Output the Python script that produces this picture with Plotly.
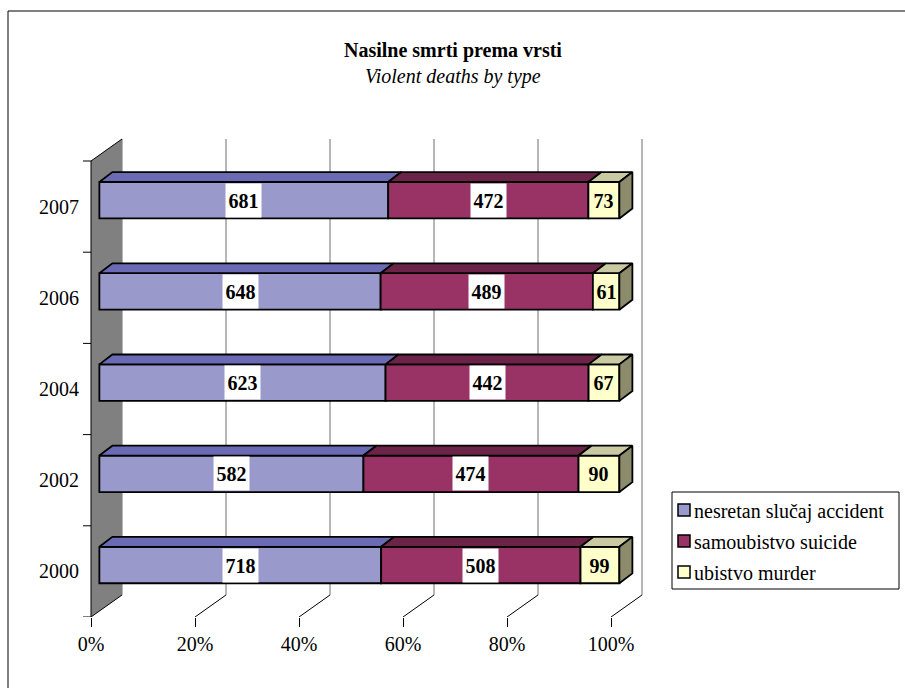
import plotly.graph_objects as go

# ---------------- data ----------------
years = ["2000", "2002", "2004", "2006", "2007"]
accident = [718, 582, 623, 648, 681]
suicide = [508, 474, 442, 489, 472]
murder = [99, 90, 67, 61, 73]
series_names = ["nesretan slučaj accident", "samoubistvo suicide", "ubistvo murder"]
x_ticks = [0, 20, 40, 60, 80, 100]
x_tick_text = ["0%", "20%", "40%", "60%", "80%", "100%"]

# ---------------- style ----------------
FONT = "Liberation Serif"
front_cols = ["#9999CC", "#993366", "#FFFFCC"]
top_cols = ["#6B6BB5", "#6B2447", "#CACAA2"]
label_bg = ["white", "white", "rgba(0,0,0,0)"]
side_col = "#8C8C6C"
wall_col = "#808080"

W, H = 905, 688
ML, MR, MT, MB = 80, 257, 130, 71
PW, PH = W - ML - MR, H - MT - MB
XR = [-11 / 5.2, -11 / 5.2 + PW / 5.2]
YR = [-0.5, -0.5 + PH / 91.2]
DX = 31 / 5.2      # depth in x (data units)
DY = 22 / 91.2     # depth in y (data units)
fx0, fx1 = 0.27 * DX, 0.69 * DX
fy0, fy1 = 0.29 * DY, 0.74 * DY
BW = 0.4
n = len(years)


def pxx(p):
    return (p - ML) / PW


def pxy(p):
    return (H - MB - p) / PH


series = [accident, suicide, murder]
totals = [a + s + m for a, s, m in zip(accident, suicide, murder)]
pcts = [[v / t * 100 for v, t in zip(ser, totals)] for ser in series]

fig = go.Figure()
shapes = []
annotations = []

# back wall gridlines
for p in x_ticks:
    shapes.append(dict(type="line", xref="x", yref="y", layer="below",
                       x0=p + DX, x1=p + DX, y0=-0.5 + DY, y1=n - 0.5 + DY,
                       line=dict(color="#6E6E6E", width=1)))
# left wall
shapes.append(dict(type="path", xref="x", yref="y", layer="below",
                   path=f"M 0,-0.5 L {DX},{-0.5 + DY} L {DX},{n - 0.5 + DY} L 0,{n - 0.5} Z",
                   fillcolor=wall_col, line=dict(width=0)))
shapes.append(dict(type="line", xref="x", yref="y", layer="below",
                   x0=0, x1=0, y0=-0.5, y1=n - 0.5, line=dict(color="black", width=1)))
shapes.append(dict(type="line", xref="x", yref="y", layer="below",
                   x0=0, x1=DX, y0=n - 0.5, y1=n - 0.5 + DY, line=dict(color="black", width=1)))
# floor diagonals
for p in x_ticks:
    shapes.append(dict(type="line", xref="x", yref="y", layer="below",
                       x0=p, x1=p + DX, y0=-0.5, y1=-0.5 + DY,
                       line=dict(color="black", width=1)))
# y axis small ticks
for k in range(n + 1):
    shapes.append(dict(type="line", xref="x", yref="y", layer="below",
                       x0=-8 / 5.2, x1=0, y0=k - 0.5, y1=k - 0.5,
                       line=dict(color="black", width=1)))

# bars: front faces
for j, (name, ser) in enumerate(zip(series_names, pcts)):
    bases = [sum(pcts[q][i] for q in range(j)) + fx0 for i in range(n)]
    fig.add_trace(go.Bar(
        orientation="h", name=name, x=ser, y=[i + fy0 for i in range(n)],
        base=bases, width=BW, showlegend=False, hoverinfo="skip",
        marker=dict(color=front_cols[j], line=dict(color="black", width=1.8))))

# top faces and side faces
for j in range(3):
    xs, ys = [], []
    for i in range(n):
        c0 = sum(pcts[q][i] for q in range(j))
        c1 = c0 + pcts[j][i]
        yt0 = i + fy0 + BW / 2
        yt1 = i + fy1 + BW / 2
        xs += [c0 + fx0, c1 + fx0, c1 + fx1, c0 + fx1, c0 + fx0, None]
        ys += [yt0, yt0, yt1, yt1, yt0, None]
    fig.add_trace(go.Scatter(x=xs, y=ys, mode="lines", fill="toself",
                             fillcolor=top_cols[j], line=dict(color="black", width=1.8),
                             showlegend=False, hoverinfo="skip"))
xs, ys = [], []
for i in range(n):
    end = sum(pcts[q][i] for q in range(3))
    xs += [end + fx0, end + fx1, end + fx1, end + fx0, end + fx0, None]
    ys += [i + fy0 - BW / 2, i + fy1 - BW / 2, i + fy1 + BW / 2, i + fy0 + BW / 2, i + fy0 - BW / 2, None]
fig.add_trace(go.Scatter(x=xs, y=ys, mode="lines", fill="toself", fillcolor=side_col,
                         line=dict(color="black", width=1.8), showlegend=False, hoverinfo="skip"))

# value labels
for j, ser in enumerate(series):
    for i in range(n):
        c0 = sum(pcts[q][i] for q in range(j))
        txt = str(ser[i])
        annotations.append(dict(
            xref="x", yref="y", x=c0 + pcts[j][i] / 2 + fx0, y=i + fy0,
            text=f"<b>{txt}</b>", showarrow=False, bgcolor=label_bg[j],
            width=10 * len(txt) + 5, height=33, borderpad=0,
            font=dict(family=FONT, size=20, color="black")))

# title
annotations.append(dict(xref="paper", yref="paper", x=pxx(452.5), y=pxy(51),
                        text="<b>Nasilne smrti prema vrsti</b>", showarrow=False,
                        xanchor="center", yanchor="middle",
                        font=dict(family=FONT, size=20, color="black")))
annotations.append(dict(xref="paper", yref="paper", x=pxx(452.5), y=pxy(76),
                        text="<i>Violent deaths by type</i>", showarrow=False,
                        xanchor="center", yanchor="middle",
                        font=dict(family=FONT, size=20, color="black")))

# legend
shapes.append(dict(type="rect", xref="paper", yref="paper",
                   x0=pxx(672), x1=pxx(899), y0=pxy(492), y1=pxy(589),
                   line=dict(color="black", width=1), fillcolor="white"))
for k, name in enumerate(series_names):
    cy = 510 + 31 * k
    shapes.append(dict(type="rect", xref="paper", yref="paper",
                       x0=pxx(678), x1=pxx(690), y0=pxy(cy - 6), y1=pxy(cy + 6),
                       line=dict(color="black", width=1.5), fillcolor=front_cols[k]))
    annotations.append(dict(xref="paper", yref="paper", x=pxx(692), y=pxy(cy + 1),
                            text=name, showarrow=False, xanchor="left", yanchor="middle",
                            font=dict(family=FONT, size=20, color="black")))

# outer border (top & left visible)
shapes.append(dict(type="line", xref="paper", yref="paper",
                   x0=pxx(8), x1=pxx(8), y0=pxy(700), y1=pxy(11),
                   line=dict(color="black", width=1)))
shapes.append(dict(type="line", xref="paper", yref="paper",
                   x0=pxx(8), x1=pxx(920), y0=pxy(11), y1=pxy(11),
                   line=dict(color="black", width=1)))

fig.update_layout(
    width=W, height=H, autosize=False,
    margin=dict(l=ML, r=MR, t=MT, b=MB, pad=0),
    paper_bgcolor="white", plot_bgcolor="white",
    barmode="overlay", showlegend=False,
    shapes=shapes, annotations=annotations,
    font=dict(family=FONT, size=20, color="black"),
    xaxis=dict(range=XR, tickvals=x_ticks, ticktext=x_tick_text, ticks="outside",
               ticklen=9, tickcolor="black", tickwidth=1, showgrid=False,
               zeroline=False, showline=False, fixedrange=True,
               tickfont=dict(family=FONT, size=20, color="black")),
    yaxis=dict(range=YR, tickvals=list(range(n)), ticktext=years, ticks="",
               showgrid=False, zeroline=False, showline=False, fixedrange=True,
               tickfont=dict(family=FONT, size=20, color="black")),
)

fig.write_html("out.html", config={"displayModeBar": False},
               post_script="document.body.style.margin='0';")
